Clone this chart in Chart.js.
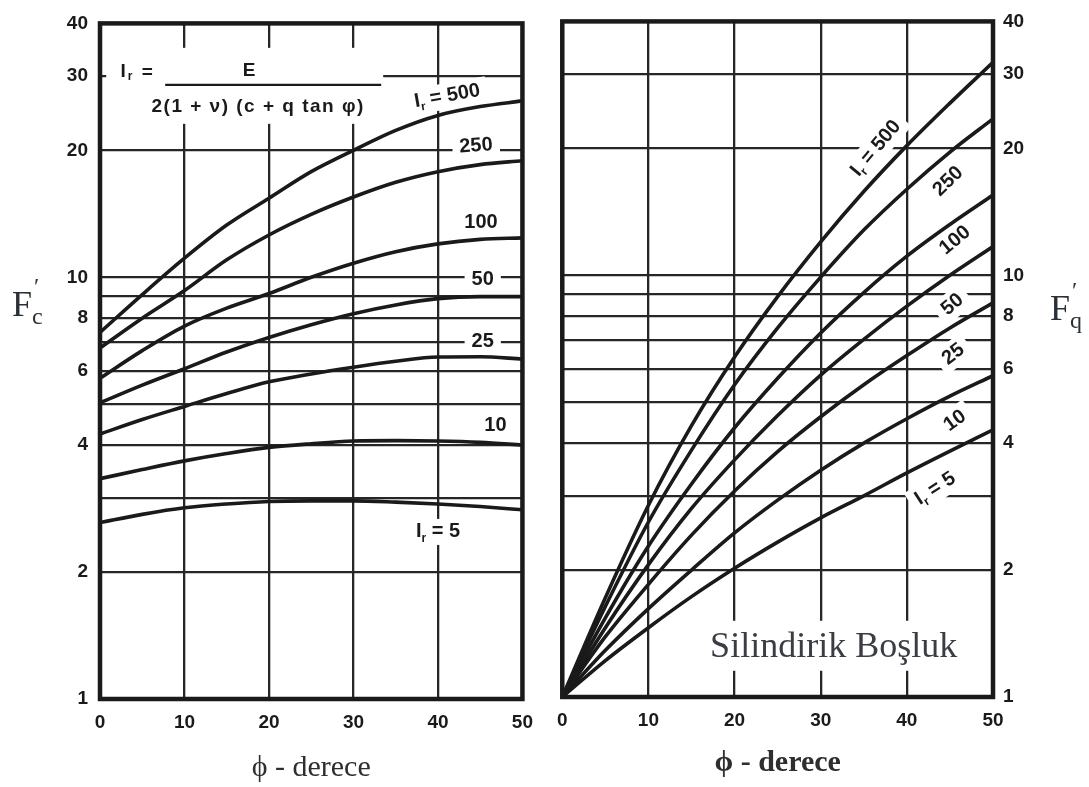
<!DOCTYPE html>
<html>
<head>
<meta charset="utf-8">
<script src="https://cdn.jsdelivr.net/npm/chart.js@4/dist/chart.umd.min.js"></script>
<style>
  html, body { margin: 0; padding: 0; background: #fff; }
  #wrap { position: relative; width: 1089px; height: 787px; }
  .panel { position: absolute; top: 0; height: 787px; }
  #left { left: 0; width: 545px; }
  #right { left: 545px; width: 544px; }
</style>
</head>
<body>
<div id="wrap">
  <div class="panel" id="left"><canvas id="chartC" width="545" height="787"></canvas></div>
  <div class="panel" id="right"><canvas id="chartQ" width="544" height="787"></canvas></div>
</div>
<script>
// friction angle, degrees
var phi = [0, 5, 10, 15, 20, 25, 30, 35, 40, 45, 50];
var rigidity = ['500', '250', '100', '50', '25', '10', '5'];

// F_c', one array per I_r
var fc500 = [7.4, 9.1, 11.1, 13.3, 15.4, 17.8, 20.0, 22.3, 24.2, 25.4, 26.2];
var fc250 = [6.8, 8.0, 9.3, 11.0, 12.6, 14.1, 15.5, 16.8, 17.8, 18.5, 18.9];
var fc100 = [5.76, 6.7, 7.66, 8.45, 9.15, 10.0, 10.8, 11.5, 12.0, 12.3, 12.4];
var fc50 = [5.04, 5.55, 6.07, 6.65, 7.2, 7.72, 8.2, 8.6, 8.9, 9.0, 9.0];
var fc25 = [4.25, 4.6, 4.94, 5.3, 5.65, 5.9, 6.12, 6.32, 6.47, 6.48, 6.4];
var fc10 = [3.33, 3.5, 3.67, 3.82, 3.95, 4.03, 4.09, 4.1, 4.09, 4.06, 4.0];
var fc5 = [2.62, 2.74, 2.84, 2.9, 2.94, 2.95, 2.95, 2.93, 2.9, 2.86, 2.81];

// F_q'
var fq500 = [1, 1.72, 2.85, 4.4, 6.4, 8.9, 12.0, 15.8, 20.3, 25.6, 32];
var fq250 = [1, 1.64, 2.6, 3.85, 5.5, 7.5, 9.9, 12.8, 16.0, 19.6, 23.5];
var fq100 = [1, 1.54, 2.28, 3.2, 4.35, 5.7, 7.3, 9.1, 11.1, 13.2, 15.5];
var fq50 = [1, 1.46, 2.06, 2.8, 3.65, 4.65, 5.8, 7.05, 8.45, 10.0, 11.7];
var fq25 = [1, 1.39, 1.85, 2.42, 3.08, 3.82, 4.62, 5.5, 6.45, 7.5, 8.6];
var fq10 = [1, 1.29, 1.62, 2.0, 2.45, 2.93, 3.45, 4.0, 4.57, 5.17, 5.78];
var fq5 = [1, 1.22, 1.46, 1.73, 2.02, 2.33, 2.66, 3.0, 3.4, 3.83, 4.3];

// axes
var xTicks = [0, 10, 20, 30, 40, 50];
var yGrid = [1, 2, 3, 4, 5, 6, 7, 8, 9, 10, 20, 30, 40];
var yLabels = [1, 2, 4, 6, 8, 10, 20, 30, 40];

// curve labels (phi, value, angle)
var tagPhiC = [41.1, 44.5, 45.1, 45.3, 45.3, 46.8, 40.0];
var tagValC = [26.9, 20.5, 13.5, 9.9, 7.05, 4.45, 2.49];
var tagRotC = [-10, -4, 0, 0, 0, 0, 0];
var tagPhiQ = [36.4, 44.8, 45.6, 45.3, 45.4, 45.6, 43.3];
var tagValQ = [20.0, 16.7, 12.1, 8.52, 6.5, 4.52, 3.12];
var tagRotQ = [-50, -44, -40, -40, -38, -36, -33];

var ink = '#1a1a1a';
var sans = '"Liberation Sans", Arial, sans-serif';
var serif = '"Liberation Serif", "DejaVu Serif", serif';

function series(vals) {
  return phi.map(function (p, i) { return { x: p, y: vals[i] }; });
}

function makeSets(list) {
  return list.map(function (vals, i) {
    return {
      label: 'Ir = ' + rigidity[i],
      data: series(vals),
      borderColor: ink,
      borderWidth: 3.6,
      pointRadius: 0,
      fill: false,
      cubicInterpolationMode: 'monotone'
    };
  });
}

// label like "I_r = 500" or "250", white box behind, centred on (cx, cy)
function drawTag(ctx, text, withIr, cx, cy, angle, size) {
  ctx.save();
  ctx.translate(cx, cy);
  ctx.rotate(angle * Math.PI / 180);
  var big = 'bold ' + size + 'px ' + sans;
  var small = 'bold ' + Math.round(size * 0.62) + 'px ' + sans;
  var parts = withIr ? [['I', big, 0], ['r', small, size * 0.32], [' = ' + text, big, 0]] : [[text, big, 0]];
  var w = 0;
  parts.forEach(function (p) { ctx.font = p[1]; p.push(ctx.measureText(p[0]).width); w += p[3]; });
  ctx.fillStyle = '#fff';
  ctx.fillRect(-w / 2 - 7, -size / 2 - 3, w + 14, size + 6);
  ctx.fillStyle = ink;
  ctx.textBaseline = 'middle';
  ctx.textAlign = 'left';
  var x = -w / 2;
  parts.forEach(function (p) { ctx.font = p[1]; ctx.fillText(p[0], x, p[2]); x += p[3]; });
  ctx.restore();
}

function tagsPlugin(phis, vals, rots) {
  return {
    id: 'tags',
    beforeDatasetsDraw: function (chart) {
      var ctx = chart.ctx, xs = chart.scales.x, ys = chart.scales.y;
      rigidity.forEach(function (r, i) {
        var withIr = (i === 0 || i === rigidity.length - 1);
        drawTag(ctx, r, withIr, xs.getPixelForValue(phis[i]), ys.getPixelForValue(vals[i]), rots[i], 20);
      });
    }
  };
}

var framePlugin = {
  id: 'frame',
  afterDatasetsDraw: function (chart) {
    var a = chart.chartArea, ctx = chart.ctx;
    ctx.save();
    ctx.strokeStyle = ink;
    ctx.lineWidth = 4.5;
    ctx.strokeRect(a.left, a.top, a.right - a.left, a.bottom - a.top);
    ctx.restore();
  }
};

// F' symbol with subscript and prime
function fSymbol(ctx, x, y, sub) {
  ctx.save();
  ctx.fillStyle = '#2b3038';
  ctx.textBaseline = 'alphabetic';
  ctx.textAlign = 'left';
  ctx.font = '36px ' + serif;
  ctx.fillText('F', x, y);
  var fw = ctx.measureText('F').width;
  ctx.font = '24px ' + serif;
  ctx.fillText(sub, x + fw, y + 8);
  ctx.fillText('\u2032', x + fw + 2, y - 22);
  ctx.restore();
}

var formulaPlugin = {
  id: 'formula',
  beforeDatasetsDraw: function (chart) {
    var ctx = chart.ctx;
    var cx = chart.scales.x.getPixelForValue(20.5);
    var cy = chart.scales.y.getPixelForValue(28.6);
    ctx.save();
    ctx.fillStyle = '#fff';
    ctx.fillRect(cx - 167, cy - 37, 277, 76);
    ctx.fillStyle = ink;
    ctx.textBaseline = 'middle';
    ctx.textAlign = 'center';
    ctx.font = 'bold 19px ' + sans;
    ctx.fillText('I', cx - 150, cy - 13);
    ctx.font = 'bold 12px ' + sans;
    ctx.fillText('r', cx - 143, cy - 8);
    ctx.font = 'bold 19px ' + sans;
    ctx.fillText('=', cx - 126, cy - 12);
    ctx.fillText('E', cx - 24, cy - 14);
    ctx.letterSpacing = '1.5px';
    ctx.fillText('2(1 + \u03bd) (c + q tan \u03c6)', cx - 15, cy + 22);
    ctx.letterSpacing = '0px';
    ctx.strokeStyle = ink;
    ctx.lineWidth = 2.2;
    ctx.beginPath();
    ctx.moveTo(cx - 108, cy);
    ctx.lineTo(cx + 108, cy);
    ctx.stroke();
    ctx.restore();
  },
  afterDraw: function (chart) {
    fSymbol(chart.ctx, 12, 316, 'c');
  }
};

var sidePlugin = {
  id: 'side',
  beforeDatasetsDraw: function (chart) {
    var ctx = chart.ctx;
    var cx = chart.scales.x.getPixelForValue(31.5);
    var cy = chart.scales.y.getPixelForValue(1.33);
    ctx.save();
    ctx.font = '36px ' + serif;
    var w = ctx.measureText('Silindirik Boşluk').width;
    ctx.fillStyle = '#fff';
    ctx.fillRect(cx - w / 2 - 6, cy - 24, w + 12, 50);
    ctx.fillStyle = '#3a3d44';
    ctx.textAlign = 'center';
    ctx.textBaseline = 'alphabetic';
    ctx.fillText('Silindirik Boşluk', cx, cy + 12);
    ctx.restore();
  },
  afterDraw: function (chart) {
    fSymbol(chart.ctx, 505, 320, 'q');
  }
};

function axes(yPos, xHeight, titleWeight, titlePad) {
  return {
    x: {
      type: 'linear', min: 0, max: 50,
      afterBuildTicks: function (s) { s.ticks = xTicks.map(function (v) { return { value: v }; }); },
      afterFit: function (s) { s.height = xHeight; },
      ticks: { padding: 12, color: ink, maxRotation: 0, font: { family: sans, size: 19, weight: 'bold' } },
      grid: { color: '#262626', lineWidth: 2.3, drawTicks: false },
      border: { display: false },
      title: {
        display: true, text: '\u03d5 - derece', color: '#2e2e2e',
        font: { family: serif, size: 30, weight: titleWeight },
        padding: { top: 0, bottom: titlePad }
      }
    },
    y: {
      type: 'logarithmic', min: 1, max: 40, position: yPos,
      afterBuildTicks: function (s) { s.ticks = yGrid.map(function (v) { return { value: v }; }); },
      afterFit: function (s) { s.width = 40; },
      ticks: {
        padding: yPos === 'left' ? 12 : 10, color: ink, autoSkip: false,
        font: { family: sans, size: 19, weight: 'bold' },
        callback: function (v) { return yLabels.indexOf(v) >= 0 ? String(v) : ''; }
      },
      grid: { color: '#262626', lineWidth: 2.3, drawTicks: false },
      border: { display: false }
    }
  };
}

var common = {
  responsive: false,
  animation: false,
  events: [],
  plugins: { legend: { display: false }, tooltip: { enabled: false } }
};

new Chart(document.getElementById('chartC'), {
  type: 'line',
  data: { datasets: makeSets([fc500, fc250, fc100, fc50, fc25, fc10, fc5]) },
  options: Object.assign({}, common, {
    layout: { padding: { left: 60, right: 18, top: 17, bottom: 0 } },
    scales: axes('left', 88, 'normal', 1)
  }),
  plugins: [tagsPlugin(tagPhiC, tagValC, tagRotC), formulaPlugin, framePlugin]
});

new Chart(document.getElementById('chartQ'), {
  type: 'line',
  data: { datasets: makeSets([fq500, fq250, fq100, fq50, fq25, fq10, fq5]) },
  options: Object.assign({}, common, {
    layout: { padding: { left: 15, right: 56, top: 17, bottom: 0 } },
    scales: axes('right', 90, 'bold', 6)
  }),
  plugins: [tagsPlugin(tagPhiQ, tagValQ, tagRotQ), sidePlugin, framePlugin]
});
</script>
</body>
</html>
